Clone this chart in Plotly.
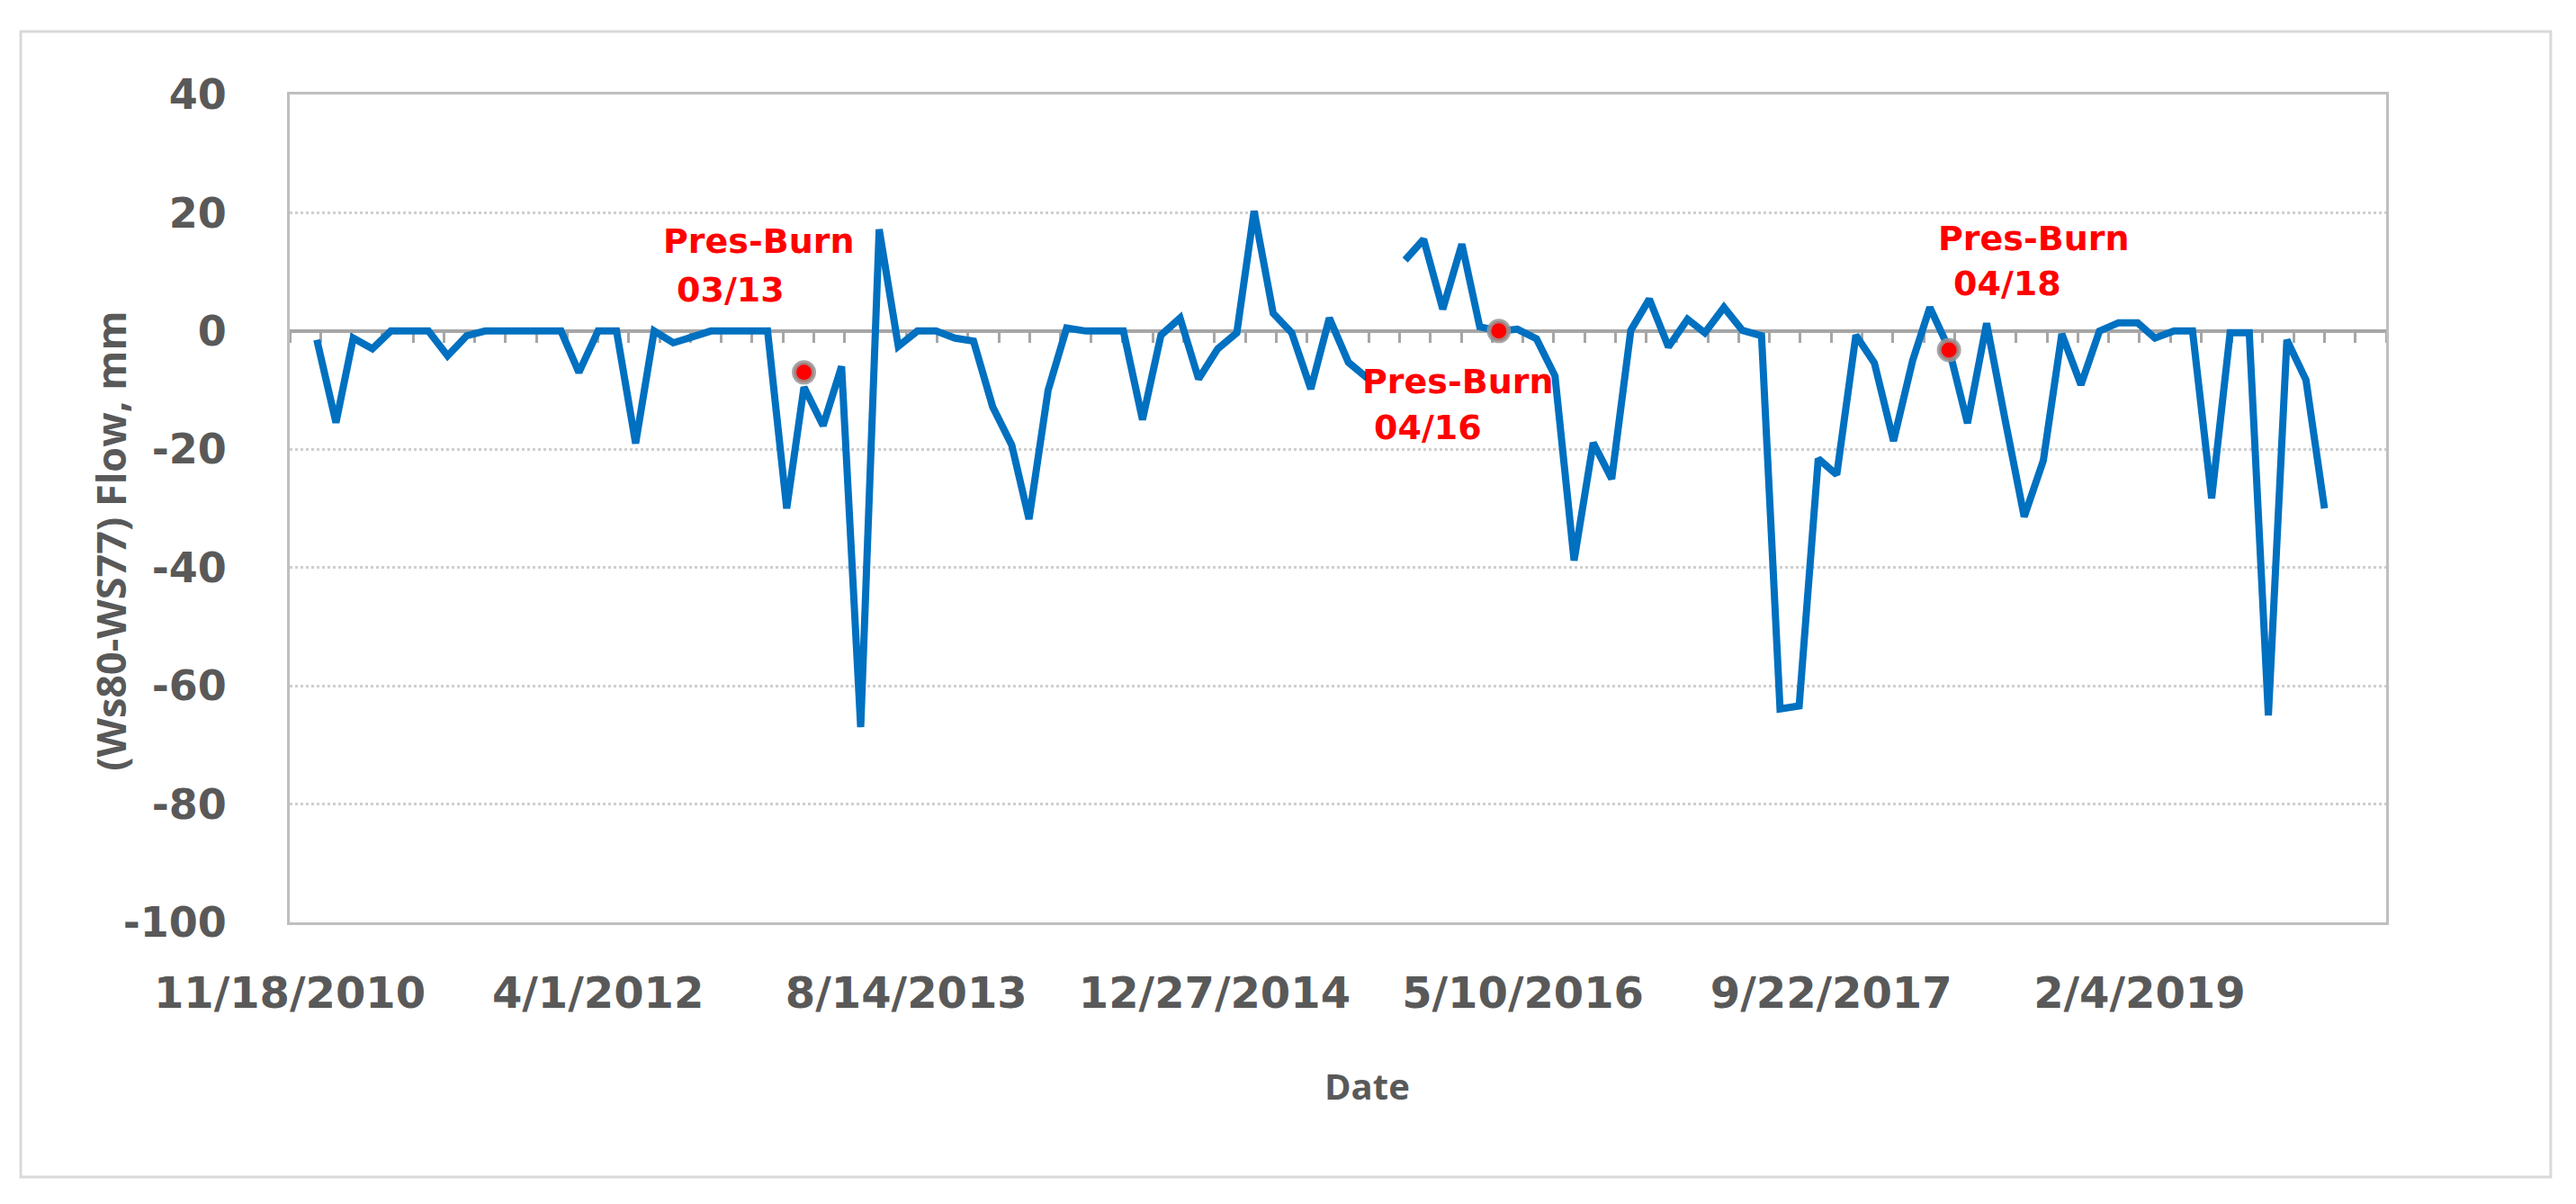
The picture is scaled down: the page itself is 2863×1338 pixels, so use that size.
import pandas as pd
import plotly.graph_objects as go

# monthly flow difference, Jan 2011 .. Dec 2019 (None = missing month)
months = pd.date_range("2011-01-01", "2019-12-01", freq="MS")
flow_2011 = [-1.5, -15.5, -1.2, -3, 0, 0, 0, -4.2, -0.8, 0, 0, 0]
flow_2012 = [0, 0, -7, 0, 0, -19, 0, -2, -1, 0, 0, 0]
flow_2013 = [0, -30, -9.5, -16, -6, -67, 17.2, -2.6, 0, 0, -1.2, -1.7]
flow_2014 = [-12.8, -19.3, -31.8, -10, 0.5, 0, 0, 0, -15, -0.7, 2.2, -8.1]
flow_2015 = [-3, -0.3, 20.3, 3, -0.3, -9.8, 2.2, -5.3, -8, None, 12, 15.5]
flow_2016 = [3.7, 14.7, 0.7, 0, 0.3, -1.3, -7.6, -38.8, -18.9, -25, 0.1, 5.4]
flow_2017 = [-2.7, 2, -0.3, 4, 0.1, -0.8, -63.9, -63.4, -21.6, -24.3, -0.7, -5.4]
flow_2018 = [-18.6, -5, 4, -3, -15.6, 1.3, -15, -31.4, -21.9, -0.5, -9.1, 0]
flow_2019 = [1.4, 1.4, -1.2, 0, 0, -28.3, -0.3, -0.3, -65, -1.5, -8.3, -30]
flow = (flow_2011 + flow_2012 + flow_2013 + flow_2014 + flow_2015
        + flow_2016 + flow_2017 + flow_2018 + flow_2019)

burn_dates = ["2013-03-01", "2016-04-01", "2018-04-01"]
burn_values = [-7, 0, -3.2]
burn_labels = ["03/13", "04/16", "04/18"]

y_ticks = [40, 20, 0, -20, -40, -60, -80, -100]

X_RANGE = ["2010-11-18", "2020-03-10"]
DAY_MS = 86400000
GRAY = "#595959"
AXIS_GRAY = "#bfbfbf"

fig = go.Figure()

fig.add_trace(go.Scatter(
    x=months, y=flow, mode="lines",
    line=dict(color="#0070c0", width=8),
    connectgaps=False, showlegend=False,
))

fig.add_trace(go.Scatter(
    x=burn_dates, y=burn_values, mode="markers",
    marker=dict(color="#ff0000", size=22, line=dict(color="rgba(150,150,150,0.85)", width=5)),
    xaxis="x2", showlegend=False,
))

# text placement of the three labels (date at left edge, two text rows)
label_pos = [
    ("2012-07-13", 15.2, "2012-08-03", 7.0),
    ("2015-08-20", -8.5, "2015-09-08", -16.3),
    ("2018-03-11", 15.7, "2018-04-05", 8.1),
]
for (x1, y1, x2, y2), lab in zip(label_pos, burn_labels):
    fig.add_annotation(x=x1, y=y1, text="<b>Pres-Burn</b>", showarrow=False,
                       xanchor="left", yanchor="middle",
                       font=dict(family="DejaVu Sans", size=38, color="#ff0000"))
    fig.add_annotation(x=x2, y=y2, text=f"<b>{lab}</b>", showarrow=False,
                       xanchor="left", yanchor="middle",
                       font=dict(family="DejaVu Sans", size=38, color="#ff0000"))

# axis titles
fig.add_annotation(xref="paper", yref="paper", x=-0.0854, y=0.46,
                   xanchor="center", yanchor="middle",
                   text="<b>(Ws80-WS77) Flow, mm</b>", textangle=-90, showarrow=False,
                   font=dict(family="Open Sans", size=45, color=GRAY))
fig.add_annotation(xref="paper", yref="paper", x=0.514, y=-0.197,
                   xanchor="center", yanchor="middle",
                   text="<b>Date</b>", showarrow=False,
                   font=dict(family="Open Sans", size=40, color=GRAY))

# outer chart frame
fig.add_shape(type="rect", xref="paper", yref="paper",
              x0=-0.1283, x1=1.0785, y0=-0.3076, y1=1.076,
              line=dict(color="#d9d9d9", width=3), fillcolor="rgba(0,0,0,0)")

fig.update_layout(
    width=2863, height=1338,
    margin=dict(l=314, r=219, t=97, b=321),
    plot_bgcolor="white", paper_bgcolor="white",
    xaxis=dict(
        type="date", range=X_RANGE,
        tick0="2010-11-18", dtick=500 * DAY_MS, tickformat="%-m/%-d/%Y",
        showgrid=False, zeroline=False,
        showline=True, linecolor=AXIS_GRAY, linewidth=3, mirror=True,
        ticks="outside", ticklen=34, tickcolor="rgba(0,0,0,0)",
        tickfont=dict(family="DejaVu Sans", size=48, color=GRAY, weight="bold"),
    ),
    xaxis2=dict(
        type="date", range=X_RANGE, overlaying="x", anchor="free",
        position=100 / 140, side="bottom",
        tick0="2010-11-18", dtick=50 * DAY_MS,
        showticklabels=False, showgrid=False, zeroline=False,
        showline=True, linecolor="#a6a6a6", linewidth=4,
        ticks="outside", ticklen=11, tickwidth=3, tickcolor="#a6a6a6",
        layer="below traces",
    ),
    yaxis=dict(
        range=[-100, 40],
        tickvals=y_ticks, ticktext=[str(v) for v in y_ticks],
        showgrid=True, gridcolor="#cfcfcf", gridwidth=3, griddash="dot",
        zeroline=False,
        showline=True, linecolor=AXIS_GRAY, linewidth=3, mirror=True,
        ticks="outside", ticklen=58, tickcolor="rgba(0,0,0,0)",
        tickfont=dict(family="DejaVu Sans", size=46, color=GRAY, weight="bold"),
    ),
)

fig.write_html("out.html")
